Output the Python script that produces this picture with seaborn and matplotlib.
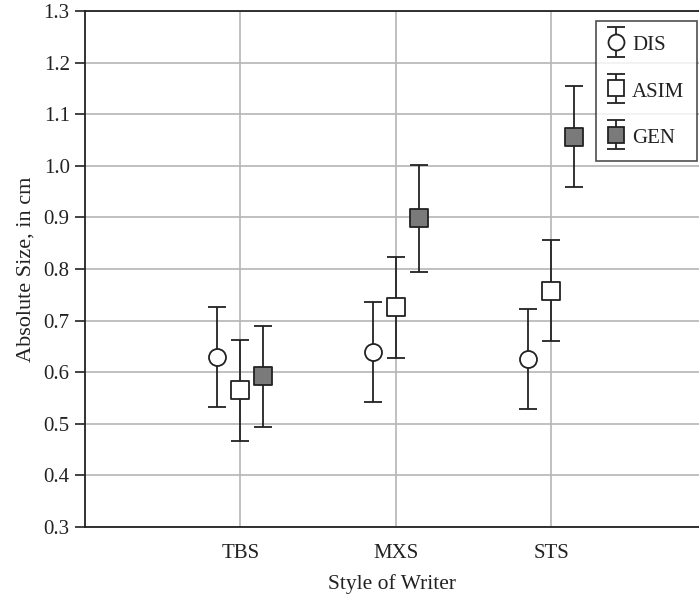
import numpy as np
import pandas as pd
import matplotlib
matplotlib.use("Agg")
import matplotlib.pyplot as plt
import seaborn as sns
from matplotlib.legend_handler import HandlerErrorbar

categories = ["TBS", "MXS", "STS"]
series = ["DIS", "ASIM", "GEN"]
dis_mean = [0.630, 0.640, 0.626]
dis_err = [0.097, 0.097, 0.097]
asim_mean = [0.565, 0.726, 0.758]
asim_err = [0.098, 0.098, 0.098]
gen_mean = [0.592, 0.898, 1.056]
gen_err = [0.098, 0.103, 0.098]
yticks = [0.3, 0.4, 0.5, 0.6, 0.7, 0.8, 0.9, 1.0, 1.1, 1.2, 1.3]

means = {"DIS": dis_mean, "ASIM": asim_mean, "GEN": gen_mean}
errs = {"DIS": dis_err, "ASIM": asim_err, "GEN": gen_err}

rows = []
for s in series:
    for i, c in enumerate(categories):
        rows.append({"cat": c, "series": s, "mean": means[s][i], "err": errs[s][i]})
df = pd.DataFrame(rows)

sns.set_theme(style="whitegrid")
plt.rcParams["font.family"] = ["Liberation Serif", "DejaVu Serif"]

fig = plt.figure(figsize=(6.99, 6.00), dpi=100)
ax = fig.add_axes([85 / 699, 1 - 527 / 600, 1 - 85 / 699, (527 - 11) / 600])

offsets = {"DIS": -0.148, "ASIM": 0.0, "GEN": 0.148}
markers = {"DIS": "o", "ASIM": "s", "GEN": "s"}
faces = {"DIS": "white", "ASIM": "white", "GEN": "#7a7a7a"}
cat_pos = {c: i for i, c in enumerate(categories)}
df["x"] = df["cat"].map(cat_pos) + df["series"].map(offsets)

ink = "#222222"
handles = []
for s in series:
    d = df[df["series"] == s]
    ax.errorbar(d["x"], d["mean"], yerr=d["err"], fmt="none",
                ecolor=ink, elinewidth=1.3, capsize=6.2,
                capthick=1.3, zorder=3)
    sns.scatterplot(data=d, x="x", y="mean", marker=markers[s], s=150,
                    color=faces[s], edgecolor=ink, linewidth=1.3,
                    ax=ax, zorder=4, legend=False)
    proxy = ax.errorbar([np.nan], [np.nan], yerr=[np.nan], fmt=markers[s],
                        markersize=11.5, markerfacecolor=faces[s],
                        markeredgecolor=ink, markeredgewidth=1.3,
                        ecolor=ink, elinewidth=1.3, capsize=6.2, capthick=1.3)
    handles.append(proxy)

ax.set_xlim(-1, 2.95)
ax.set_ylim(0.3, 1.3)
ax.set_yticks(yticks)
ax.set_yticklabels([f"{v:.1f}" for v in yticks], fontsize=15, color=ink)
ax.set_xticks(range(len(categories)))
ax.set_xticklabels(categories, fontsize=15, color=ink)
ax.set_xlabel("Style of Writer", fontsize=15.5, color=ink, labelpad=8)
ax.set_ylabel("Absolute Size, in cm", fontsize=16, color=ink, labelpad=6)

ax.grid(True, color="#b5b5b5", linewidth=1.2)
ax.set_facecolor("white")
for side in ["left", "bottom", "top"]:
    ax.spines[side].set_visible(True)
    ax.spines[side].set_color(ink)
    ax.spines[side].set_linewidth(1.3)
ax.spines["right"].set_visible(False)
ax.tick_params(axis="y", which="major", left=True, length=7, width=1.2,
               color=ink, pad=4)
ax.tick_params(axis="x", bottom=False, pad=6)

leg = ax.legend(handles, series,
                handler_map={type(handles[0]): HandlerErrorbar(yerr_size=0.7)},
                loc="upper right", bbox_to_anchor=(0.997, 0.981), fontsize=15,
                frameon=True, fancybox=False, edgecolor=ink,
                handlelength=0.7, handleheight=1.0, labelspacing=1.2,
                handletextpad=0.4, borderpad=0.62, borderaxespad=0)
leg.get_frame().set_linewidth(1.2)
for t in leg.get_texts():
    t.set_color(ink)

fig.savefig("out.png", dpi=100)
